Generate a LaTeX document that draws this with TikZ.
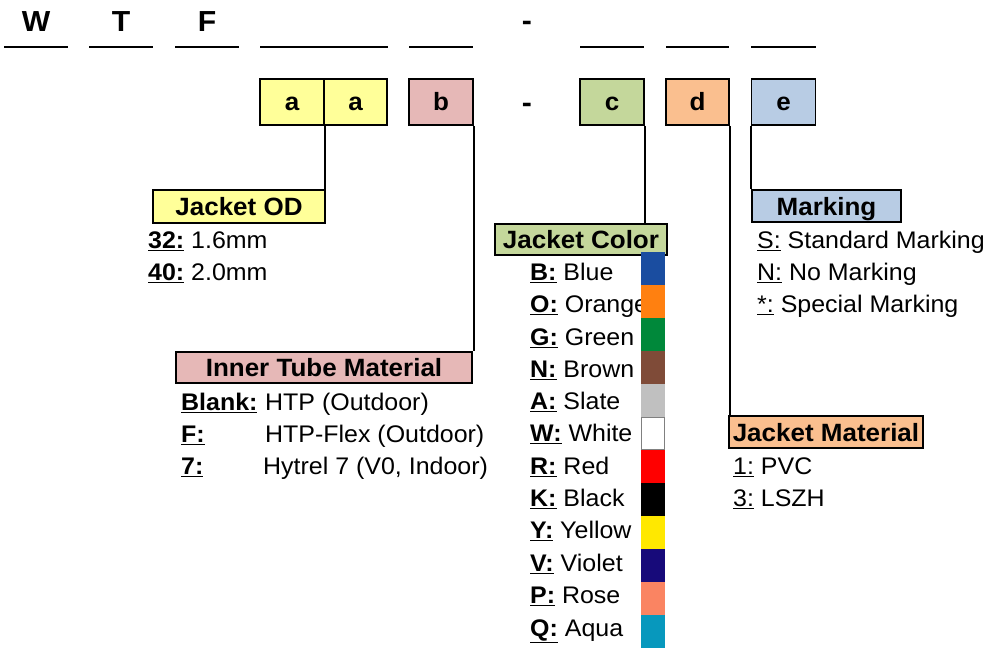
\documentclass[tikz,border=0pt]{standalone}
\usepackage{fontspec}
\setmainfont{Liberation Sans}[FakeStretch=1.04]
\newcommand\kb[1]{\underline{\textbf{#1}}}
\newcommand\kr[1]{\underline{#1}}
\definecolor{cyel}{HTML}{FFFF99}
\definecolor{cpink}{HTML}{E6B8B7}
\definecolor{cgrn}{HTML}{C4D79B}
\definecolor{corg}{HTML}{FABF8F}
\definecolor{cblu}{HTML}{B8CCE4}
\definecolor{sBlue}{HTML}{1A4DA0}
\definecolor{sOrange}{HTML}{FF8010}
\definecolor{sGreen}{HTML}{00883A}
\definecolor{sBrown}{HTML}{7F4B38}
\definecolor{sSlate}{HTML}{C0C0C0}
\definecolor{sRed}{HTML}{FF0000}
\definecolor{sYellow}{HTML}{FFE800}
\definecolor{sViolet}{HTML}{170A7A}
\definecolor{sRose}{HTML}{FA8462}
\definecolor{sAqua}{HTML}{0798BD}
\begin{document}
\begin{tikzpicture}[x=1pt,y=-1pt,
  lab/.style={anchor=base west, inner sep=0pt, font=\fontsize{24}{28}\selectfont},
  hdr/.style={draw, line width=1.6pt, inner sep=0pt, text height=18pt, text depth=0pt, font=\fontsize{25}{30}\selectfont\bfseries},
  codebox/.style={draw, line width=1.6pt, minimum height=46pt, inner sep=0pt, text height=17pt, text depth=0pt, font=\fontsize{25}{28}\selectfont\bfseries},
  topl/.style={inner sep=0pt, font=\fontsize{29}{32}\selectfont\bfseries},
  blankline/.style={line width=2.2pt},
  conn/.style={line width=1.6pt}]
\useasboundingbox (0,0) rectangle (985,648);

% top row
\node[topl] (W) at (36,22) {W};
\node[topl] (T) at (121,22) {T};
\node[topl] (F) at (207,22) {F};
\node[topl] (dash1) at (527,26) {-};
\foreach \a/\b in {4/68,89/153,175/239,260/388,409/473,580/644,666/729,751/816}
  \draw[blankline] (\a,47) -- (\b,47);

% code boxes
\node[codebox, fill=cyel, minimum width=64pt] (a1) at (292,102) {a};
\node[codebox, fill=cyel, minimum width=63pt] (a2) at (355.5,102) {a};
\node[codebox, fill=cpink, minimum width=64pt] (b) at (441,102) {b};
\node[topl] (dash2) at (527,108) {-};
\node[codebox, fill=cgrn, minimum width=64pt] (c) at (612,102) {c};
\node[codebox, fill=corg, minimum width=63pt] (d) at (697.5,102) {d};
\node[codebox, fill=cblu, minimum width=64pt] (e) at (783.5,102) {e};

% header boxes
\node[hdr, fill=cyel, minimum width=172pt, minimum height=33pt] (od) at (239,206.5) {Jacket OD};
\node[hdr, fill=cpink, minimum width=296pt, minimum height=31pt] (itm) at (324,367.5) {Inner Tube Material};
\node[hdr, fill=cgrn, minimum width=172pt, minimum height=31pt] (jc) at (581,239.5) {Jacket Color};
\node[hdr, fill=cblu, minimum width=149pt, minimum height=32pt] (mk) at (826.5,206) {Marking};
\node[hdr, fill=corg, minimum width=194pt, minimum height=32pt] (jm) at (826,432) {Jacket Material};

% connectors
\draw[conn] (a1.south east) -- (a1.south east |- od.north);
\draw[conn] (b.south east) -- (b.south east |- itm.north);
\draw[conn] (c.south east) -- (c.south east |- jc.north);
\draw[conn] (d.south east) -- (d.south east |- jm.north);
\draw[conn] (e.south west) -- (e.south west |- mk.north);

% Jacket OD items
\node[lab] (od1) at (148,248.5) {\kb{32:} 1.6mm};
\node[lab] (od2) at (148,280.5) {\kb{40:} 2.0mm};

% Inner tube items
\node[lab] (it1k) at (181,410.5) {\kb{Blank:}};
\node[lab] (it1v) at (265,410.5) {HTP (Outdoor)};
\node[lab] (it2k) at (181,442.5) {\kb{F:}};
\node[lab] (it2v) at (265,442.5) {HTP-Flex (Outdoor)};
\node[lab] (it3k) at (181,474.5) {\kb{7:}};
\node[lab] (it3v) at (263,474.5) {Hytrel 7 (V0, Indoor)};

% Jacket color items
\foreach \k/\v/\yy in {B/Blue/272,O/Orange/304,G/Green/337,N/Brown/369,A/Slate/401,W/White/433,R/Red/466,K/Black/498,Y/Yellow/530,V/Violet/563,P/Rose/595,Q/Aqua/628}
  \node[lab] (jc\k) at (530,\yy+8.5) {\kb{\k:} \v};

% swatches
\foreach \c [count=\i from 0] in {sBlue,sOrange,sGreen,sBrown,sSlate,white,sRed,black,sYellow,sViolet,sRose,sAqua}
  \fill[\c] (641,252+33*\i) rectangle (665,285+33*\i);
\draw[gray, line width=0.8pt] (641.4,417.4) rectangle (664.6,449.6);

% Marking items
\node[lab] (mk1) at (757,248.5) {\kr{S:} Standard Marking};
\node[lab] (mk2) at (757,280.5) {\kr{N:} No Marking};
\node[lab] (mk3) at (757,312.5) {\kr{*:} Special Marking};

% Jacket material items
\node[lab] (jm1) at (733,474.5) {\kr{1:} PVC};
\node[lab] (jm2) at (733,506.5) {\kr{3:} LSZH};
\end{tikzpicture}
\end{document}
